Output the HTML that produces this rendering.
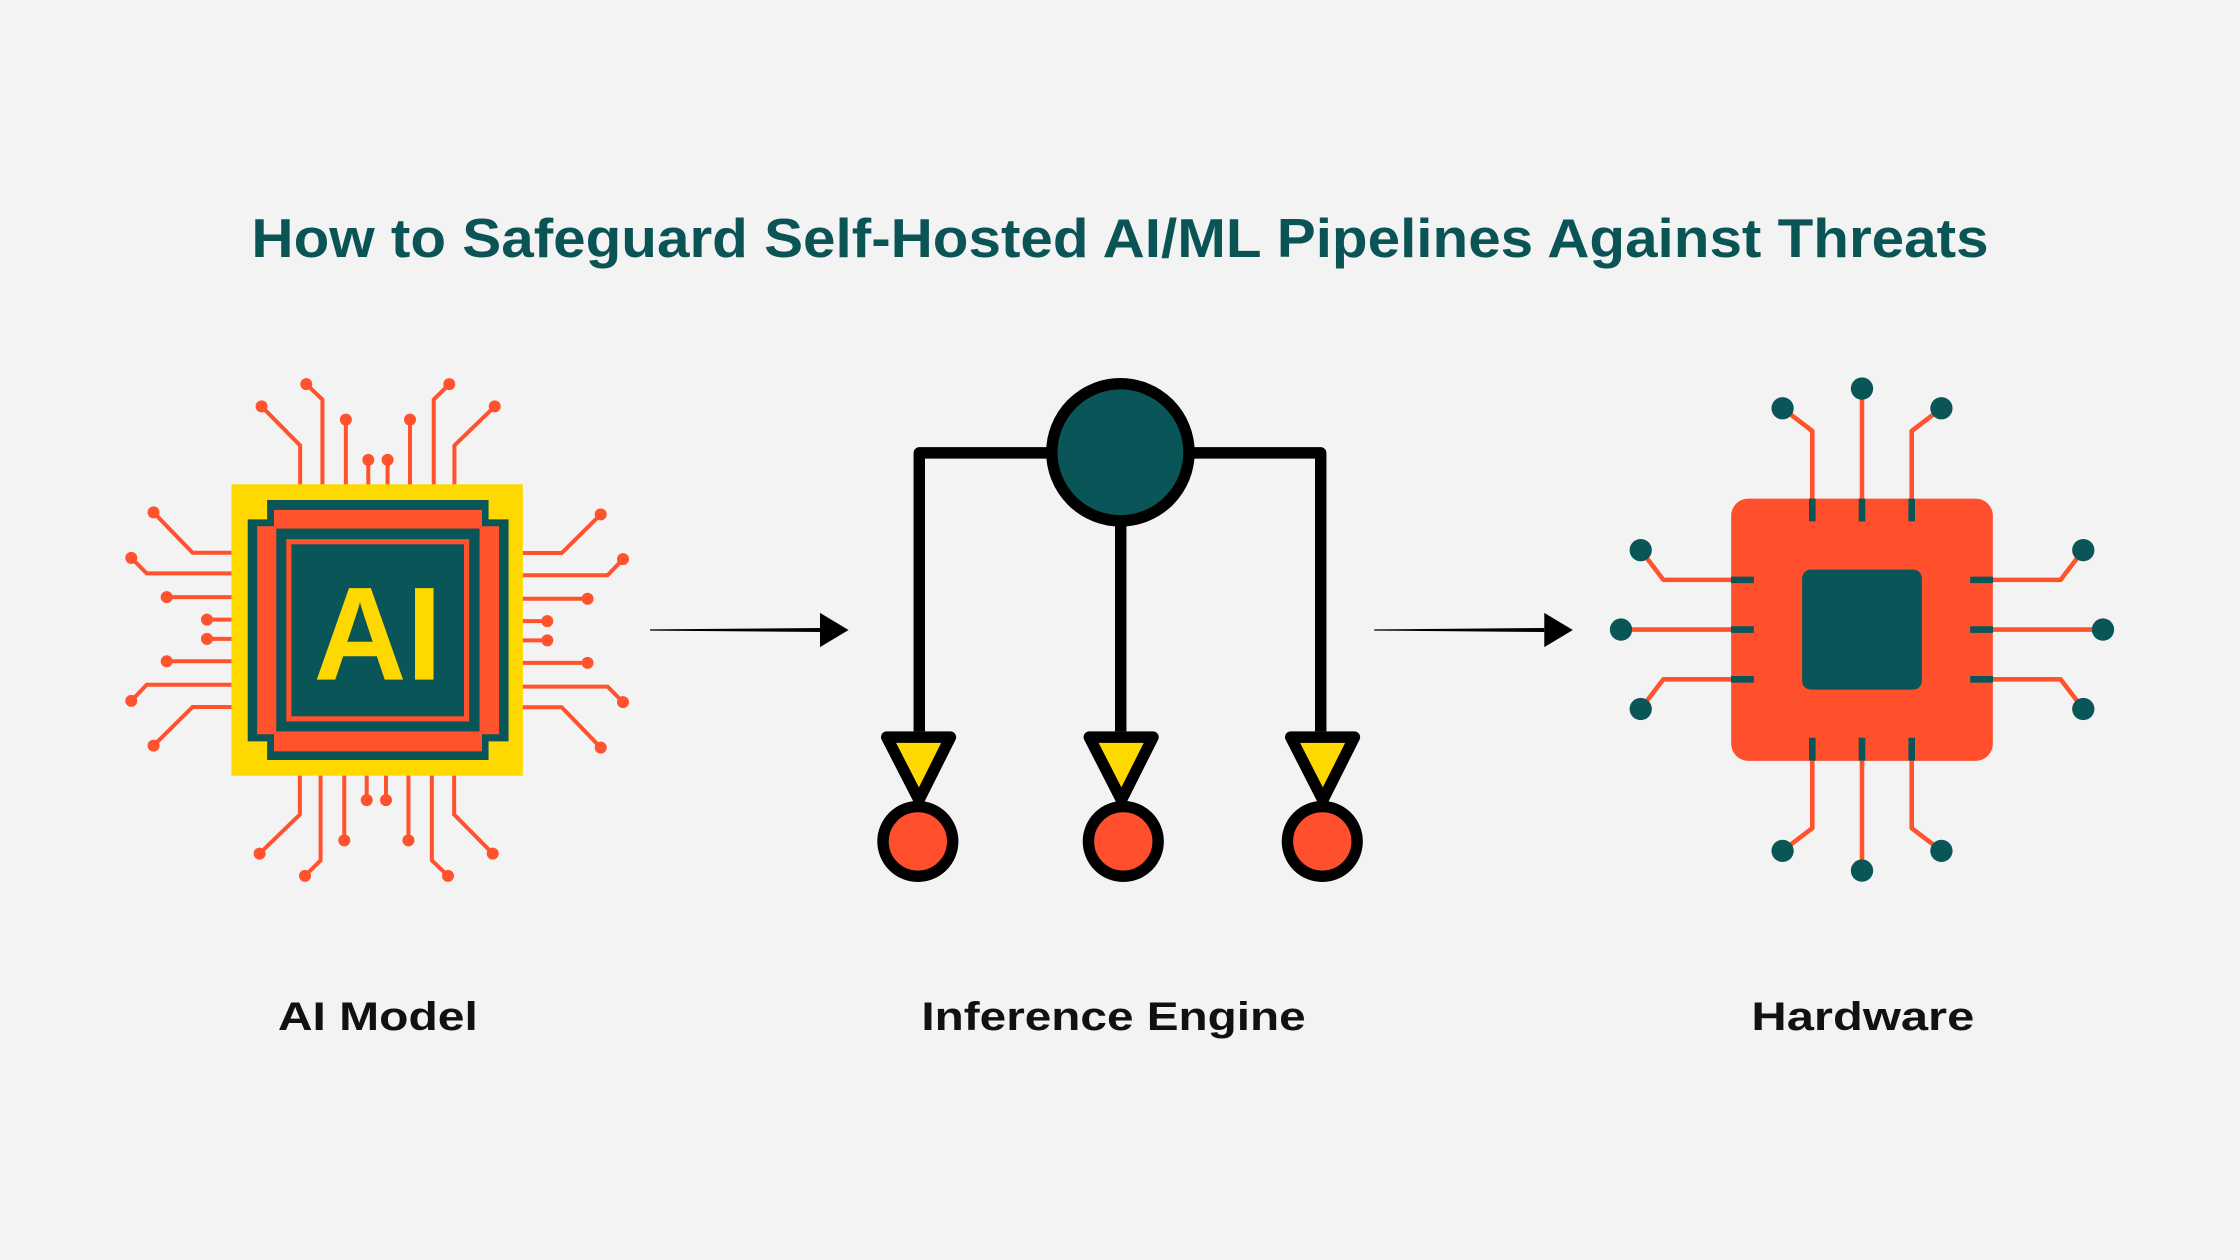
<!DOCTYPE html>
<html><head><meta charset="utf-8"><style>
html,body{margin:0;padding:0;background:#f3f3f3;}
svg{display:block;}
text{font-family:"Liberation Sans",sans-serif;font-weight:bold;}
</style></head><body>
<svg width="2240" height="1260" viewBox="0 0 1568 882" xmlns="http://www.w3.org/2000/svg">
<rect width="1568" height="882" fill="#f3f3f3"/>
<text x="784" y="180" font-size="38" fill="#0b5456" text-anchor="middle" textLength="1216" lengthAdjust="spacingAndGlyphs">How to Safeguard Self-Hosted AI/ML Pipelines Against Threats</text>

<!-- AI chip -->
<g id="aitop" stroke="#ff522d" stroke-width="2.8" fill="none">
<path d="M210.1 340 V311.8 L183.1 284.5 M225.7 340 V279.7 L214.4 268.9 M242.1 340 V293.7 M257.8 340 V321.9 M271.3 340 V321.9 M287 340 V293.7 M303.6 340 V279.7 L314.5 268.9 M318.1 340 V311.8 L346.3 284.5"/>
<g fill="#ff522d" stroke="none">
<circle cx="183.1" cy="284.5" r="4.2"/><circle cx="214.4" cy="268.9" r="4.2"/><circle cx="242.1" cy="293.7" r="4.2"/><circle cx="257.8" cy="321.9" r="4.2"/><circle cx="271.3" cy="321.9" r="4.2"/><circle cx="287" cy="293.7" r="4.2"/><circle cx="314.5" cy="268.9" r="4.2"/><circle cx="346.3" cy="284.5" r="4.2"/>
</g></g>
<use href="#aitop" transform="rotate(90 264 441)"/>
<use href="#aitop" transform="rotate(180 264 441)"/>
<use href="#aitop" transform="rotate(270 264 441)"/>
<rect x="162" y="339" width="204" height="204" fill="#ffd800"/>
<path d="M187 350 H342 V363.6 H356 V519 H342 V532 H187 V519 H173.4 V363.6 H187 Z" fill="#0a5558"/>
<path d="M191.8 356.9 H337.4 V368.4 H349.4 V514 H337.4 V526 H191.8 V514 H180 V368.4 H191.8 Z" fill="#ff522d"/>
<rect x="193.4" y="370" width="142.3" height="142" fill="#0a5558"/>
<rect x="202.2" y="379.2" width="124.4" height="124" fill="none" stroke="#ff522d" stroke-width="3.6"/>
<text x="264.5" y="475.7" font-size="93" fill="#ffd800" text-anchor="middle" textLength="90" lengthAdjust="spacingAndGlyphs">AI</text>

<!-- arrows -->
<polygon points="455,440.6 574,439.6 574,442.4 455,441.4" fill="#000"/>
<polygon points="574,429 594,441 574,453" fill="#000"/>
<polygon points="962,440.6 1081,439.6 1081,442.4 962,441.4" fill="#000"/>
<polygon points="1081,429 1101,441 1081,453" fill="#000"/>

<!-- inference engine -->
<g stroke="#000" stroke-width="8" fill="none" stroke-linejoin="round">
<path d="M643.5 512 V317 H924.5 V512 M784.5 317 V512"/>
<circle cx="784.3" cy="316.6" r="48" fill="#0a5558"/>
<path d="M620.7 516 H665.3 L643.3 560 Z" fill="#ffd800"/>
<path d="M762.5 516 H807.1 L785 560 Z" fill="#ffd800"/>
<path d="M903.5 516 H948.1 L926 560 Z" fill="#ffd800"/>
<circle cx="642.5" cy="589" r="24.4" fill="#ff4f2c"/>
<circle cx="786.3" cy="589" r="24.4" fill="#ff4f2c"/>
<circle cx="925.6" cy="589" r="24.4" fill="#ff4f2c"/>
</g>

<!-- hardware -->
<g id="hwtop">
<path d="M1268.6 352 V301.7 L1247.8 285.8 M1303.4 352 V272 M1338.2 352 V301.7 L1359 285.8" stroke="#ff522d" stroke-width="3.2" fill="none" stroke-linejoin="round"/>
<circle cx="1247.8" cy="285.8" r="7.8" fill="#0a5558"/>
<circle cx="1303.4" cy="272" r="7.8" fill="#0a5558"/>
<circle cx="1359" cy="285.8" r="7.8" fill="#0a5558"/>
</g>
<use href="#hwtop" transform="rotate(90 1303.4 440.7)"/>
<use href="#hwtop" transform="rotate(180 1303.4 440.7)"/>
<use href="#hwtop" transform="rotate(270 1303.4 440.7)"/>
<rect x="1211.8" y="349" width="183.2" height="183.6" rx="12" fill="#ff4f2c"/>
<g id="hwstub" stroke="#0a5558" stroke-width="4.6">
<path d="M1268.6 349 V365 M1303.4 349 V365 M1338.2 349 V365"/>
</g>
<use href="#hwstub" transform="rotate(90 1303.4 440.7)"/>
<use href="#hwstub" transform="rotate(180 1303.4 440.7)"/>
<use href="#hwstub" transform="rotate(270 1303.4 440.7)"/>
<rect x="1261.5" y="398.7" width="83.8" height="84" rx="6" fill="#0a5558"/>

<!-- labels -->
<text x="264.5" y="721" font-size="28" fill="#111" text-anchor="middle" textLength="140" lengthAdjust="spacingAndGlyphs">AI Model</text>
<text x="779.5" y="721" font-size="28" fill="#111" text-anchor="middle" textLength="269" lengthAdjust="spacingAndGlyphs">Inference Engine</text>
<text x="1304" y="721" font-size="28" fill="#111" text-anchor="middle" textLength="156" lengthAdjust="spacingAndGlyphs">Hardware</text>
</svg>
</body></html>
